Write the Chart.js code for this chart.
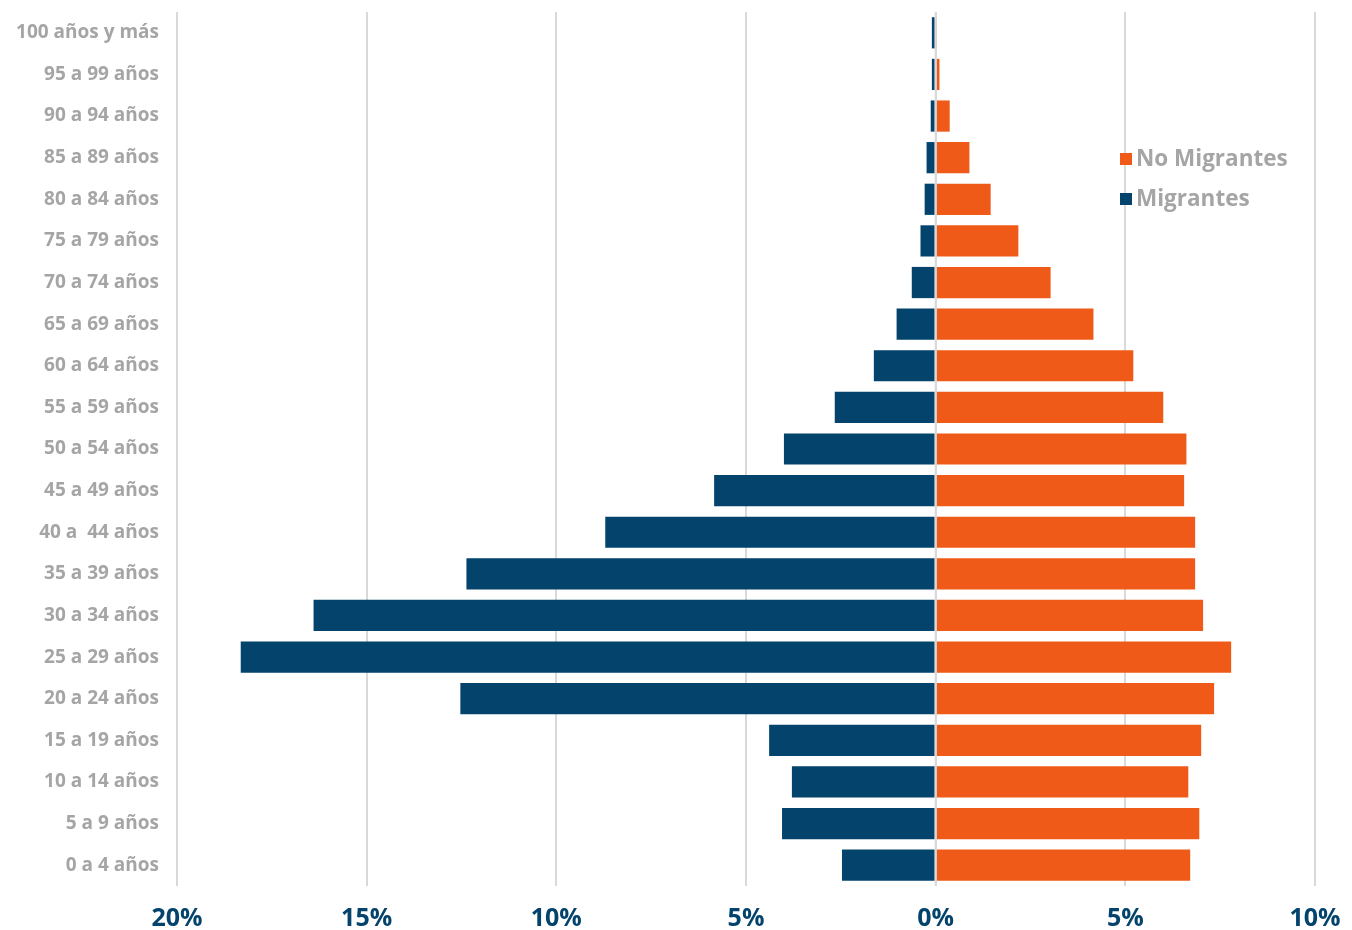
<!DOCTYPE html>
<html>
<head>
<meta charset="utf-8">
<script src="https://cdn.jsdelivr.net/npm/chart.js@4.4.1/dist/chart.umd.min.js"></script>
<style>
  html, body { margin: 0; padding: 0; background: #ffffff; }
  #wrap { position: relative; width: 1352px; height: 930px; }
</style>
</head>
<body>
<div id="wrap"><canvas id="c" width="1352" height="930"></canvas></div>
<script>
const categories = [
  '100 años y más', '95 a 99 años', '90 a 94 años', '85 a 89 años', '80 a 84 años',
  '75 a 79 años', '70 a 74 años', '65 a 69 años', '60 a 64 años', '55 a 59 años',
  '50 a 54 años', '45 a 49 años', '40 a  44 años', '35 a 39 años', '30 a 34 años',
  '25 a 29 años', '20 a 24 años', '15 a 19 años', '10 a 14 años', '5 a 9 años', '0 a 4 años'
];
const migrantes = [
  -0.10, -0.10, -0.13, -0.24, -0.29,
  -0.40, -0.63, -1.03, -1.63, -2.66,
  -4.00, -5.84, -8.71, -12.37, -16.40,
  -18.32, -12.53, -4.39, -3.79, -4.05, -2.47
];
const noMigrantes = [
  0.02, 0.10, 0.37, 0.89, 1.45,
  2.18, 3.03, 4.16, 5.21, 6.00,
  6.61, 6.55, 6.84, 6.84, 7.05,
  7.79, 7.34, 7.00, 6.66, 6.95, 6.71
];
const xTicks = [-20, -15, -10, -5, 0, 5, 10];

const ORANGE = '#F05A19';
const NAVY = '#03436C';
const GREY_TEXT = '#A5A5A5';
const GRID = '#D9D9D9';
const FONT = "'Open Sans', 'DejaVu Sans', sans-serif";

const zeroLinePlugin = {
  id: 'zeroLine',
  afterDatasetsDraw(chart) {
    const { ctx, chartArea } = chart;
    const x = chart.scales.x.getPixelForValue(0);
    ctx.save();
    ctx.strokeStyle = GRID;
    ctx.lineWidth = 2;
    ctx.beginPath();
    ctx.moveTo(x, chartArea.top);
    ctx.lineTo(x, chartArea.bottom);
    ctx.stroke();
    ctx.restore();
  }
};

const customLegend = {
  id: 'customLegend',
  afterDraw(chart) {
    const { ctx } = chart;
    const items = [
      { text: 'No Migrantes', color: ORANGE },
      { text: 'Migrantes', color: NAVY }
    ];
    const left = 1120, top = 159, gap = 40, box = 12;
    ctx.save();
    ctx.font = "700 22.5px " + FONT;
    ctx.textBaseline = 'middle';
    ctx.textAlign = 'left';
    items.forEach((it, i) => {
      const y = top + i * gap;
      ctx.fillStyle = it.color;
      ctx.fillRect(left, y - box / 2, box, box);
      ctx.fillStyle = GREY_TEXT;
      ctx.fillText(it.text, left + box + 4, y + 1);
    });
    ctx.restore();
  }
};

new Chart(document.getElementById('c'), {
  type: 'bar',
  data: {
    labels: categories,
    datasets: [
      { label: 'No Migrantes', data: noMigrantes, backgroundColor: ORANGE, borderWidth: 0 },
      { label: 'Migrantes', data: migrantes, backgroundColor: NAVY, borderWidth: 0 }
    ]
  },
  options: {
    indexAxis: 'y',
    responsive: false,
    animation: false,
    layout: { padding: { top: 12, right: 37, bottom: 0, left: 0 } },
    datasets: { bar: { barPercentage: 0.75, categoryPercentage: 1.0 } },
    plugins: {
      legend: { display: false },
      tooltip: { enabled: false }
    },
    scales: {
      x: {
        type: 'linear',
        stacked: true,
        min: -20,
        max: 10,
        afterBuildTicks(scale) { scale.ticks = xTicks.map(v => ({ value: v })); },
        afterFit(scale) {
          scale.paddingLeft = 0; scale.paddingRight = 0;
          scale.paddingTop = 0; scale.paddingBottom = 0;
          scale.height = 44;
        },
        grid: { color: GRID, lineWidth: 2, drawTicks: false },
        border: { display: false },
        ticks: {
          padding: 20,
          color: NAVY,
          font: { family: FONT, size: 25, weight: '700', lineHeight: 1 },
          callback: v => Math.abs(v) + '%',
          maxRotation: 0
        }
      },
      y: {
        stacked: true,
        grid: { display: false, drawTicks: false },
        border: { display: false },
        afterFit(scale) {
          scale.width = 177;
          scale.paddingTop = 0; scale.paddingBottom = 0;
          scale.paddingLeft = 0; scale.paddingRight = 0;
        },
        ticks: {
          padding: 18,
          color: GREY_TEXT,
          font: { family: FONT, size: 19, weight: '700' }
        }
      }
    }
  },
  plugins: [zeroLinePlugin, customLegend]
});
</script>
</body>
</html>
